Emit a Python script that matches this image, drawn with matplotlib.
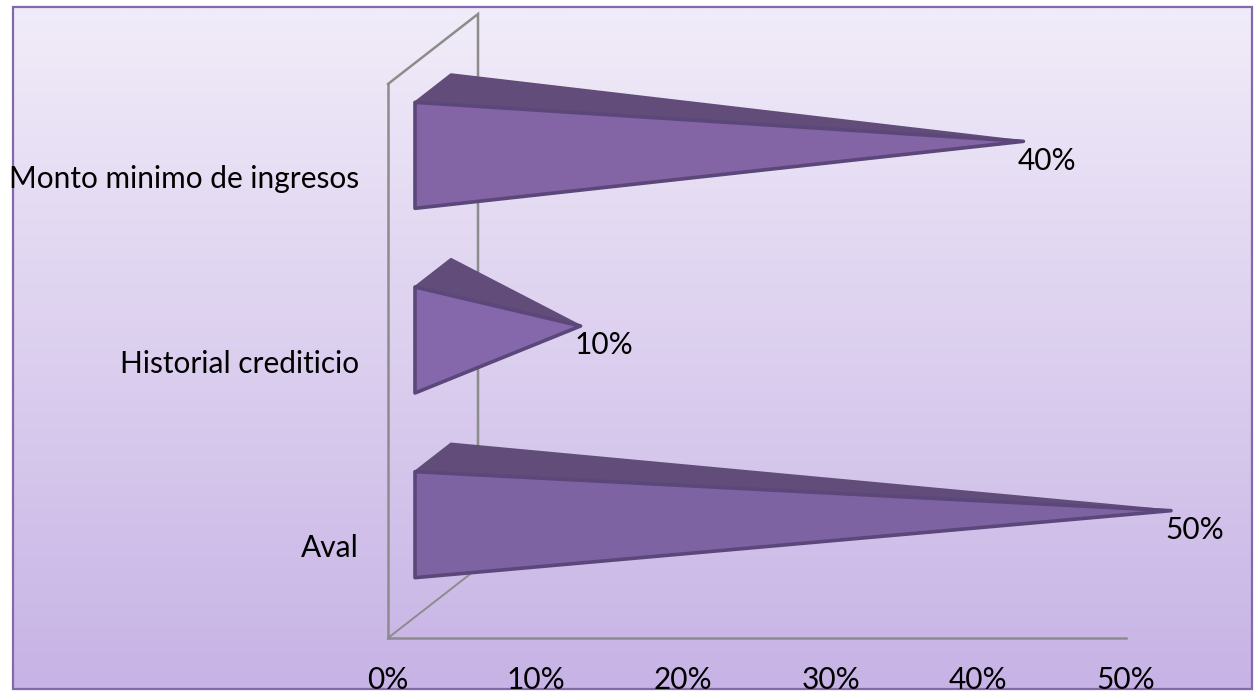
import numpy as np
import matplotlib
matplotlib.use('Agg')
import matplotlib.pyplot as plt
from matplotlib.patches import Polygon, Rectangle

categories = ['Aval', 'Historial crediticio', 'Monto minimo de ingresos']
values = [50, 10, 40]
value_labels = ['50%', '10%', '40%']
x_ticks = [0, 10, 20, 30, 40, 50]
x_tick_labels = ['0%', '10%', '20%', '30%', '40%', '50%']

front_colors = ['#7E63A3', '#8568AB', '#8364A5']
top_color = '#614C7A'
edge_color = '#5B4779'
axis_color = '#8C8C8C'
frame_color = '#8468AC'

W, H = 1255, 693
plt.rcParams['font.family'] = ['Lato', 'DejaVu Sans']

fig = plt.figure(figsize=(W / 100, H / 100), dpi=100, facecolor='white')

# chart area background, full figure in pixel coordinates
bg = fig.add_axes([0, 0, 1, 1], zorder=0)
bg.set_xlim(0, W)
bg.set_ylim(H, 0)
bg.axis('off')
shade = np.linspace(0, 1, 256).reshape(-1, 1)
top_rgb = np.array(matplotlib.colors.to_rgb('#F1ECF9'))
bot_rgb = np.array(matplotlib.colors.to_rgb('#C7B3E5'))
grad = top_rgb + (bot_rgb - top_rgb) * shade[..., None]
bg.imshow(grad, extent=(14, 1251, 688, 8), aspect='auto', zorder=1, interpolation='bilinear')
bg.add_patch(Rectangle((13, 7), 1239, 682, fill=False, ec=frame_color, lw=1.6, zorder=2))
bg.set_xlim(0, W)
bg.set_ylim(H, 0)

# plot area: 0-50% across, one unit per category
ax = fig.add_axes([388 / W, (H - 638) / H, 738 / W, 554 / H], zorder=1)
ax.patch.set_visible(False)
ax.set_xlim(0, 50)
ax.set_ylim(0, 3)

# oblique depth of the 3D box, in data units
depth_x = 90 / (738 / 50)
depth_y = 70 / (554 / 3)
half_h = 53 / (554 / 3)

for side in ['top', 'right']:
    ax.spines[side].set_visible(False)
for side in ['left', 'bottom']:
    ax.spines[side].set_color(axis_color)
    ax.spines[side].set_linewidth(1.8)

ax.plot([0, depth_x, depth_x], [3, 3 + depth_y, depth_y],
        color=axis_color, lw=1.8, clip_on=False, zorder=1, solid_joinstyle='miter')
ax.plot([0, depth_x], [0, depth_y], color=axis_color, lw=1.4, clip_on=False, zorder=1)

y_pos = np.arange(len(categories)) + 0.5

for y, v, lab, col in zip(y_pos, values, value_labels, front_colors):
    tip = (v + 0.5 * depth_x, y + 0.5 * depth_y)
    fx, fy = 0.3 * depth_x, y + 0.3 * depth_y
    bx, by = 0.7 * depth_x, y + 0.7 * depth_y
    # upper sloping face
    ax.add_patch(Polygon([(fx, fy + half_h), (bx, by + half_h), tip], closed=True,
                         fc=top_color, ec=top_color, lw=1.6, joinstyle='round',
                         clip_on=False, zorder=3))
    # front face of the cone
    ax.add_patch(Polygon([(fx, fy + half_h), (fx, fy - half_h), tip], closed=True,
                         fc=col, ec=edge_color, lw=2.6, joinstyle='round',
                         clip_on=False, zorder=4))
    ax.annotate(lab, xy=tip, xytext=(17, -14), textcoords='offset points',
                ha='center', va='center', fontsize=21.5, color='black',
                annotation_clip=False, zorder=5)

ax.set_xticks(x_ticks, x_tick_labels, fontsize=21.5, color='black')
ax.set_yticks(y_pos, categories, fontsize=21.5, color='black')
ax.tick_params(axis='both', length=0)
ax.tick_params(axis='x', pad=20)
ax.tick_params(axis='y', pad=21)

fig.savefig('out.png', dpi=100)
